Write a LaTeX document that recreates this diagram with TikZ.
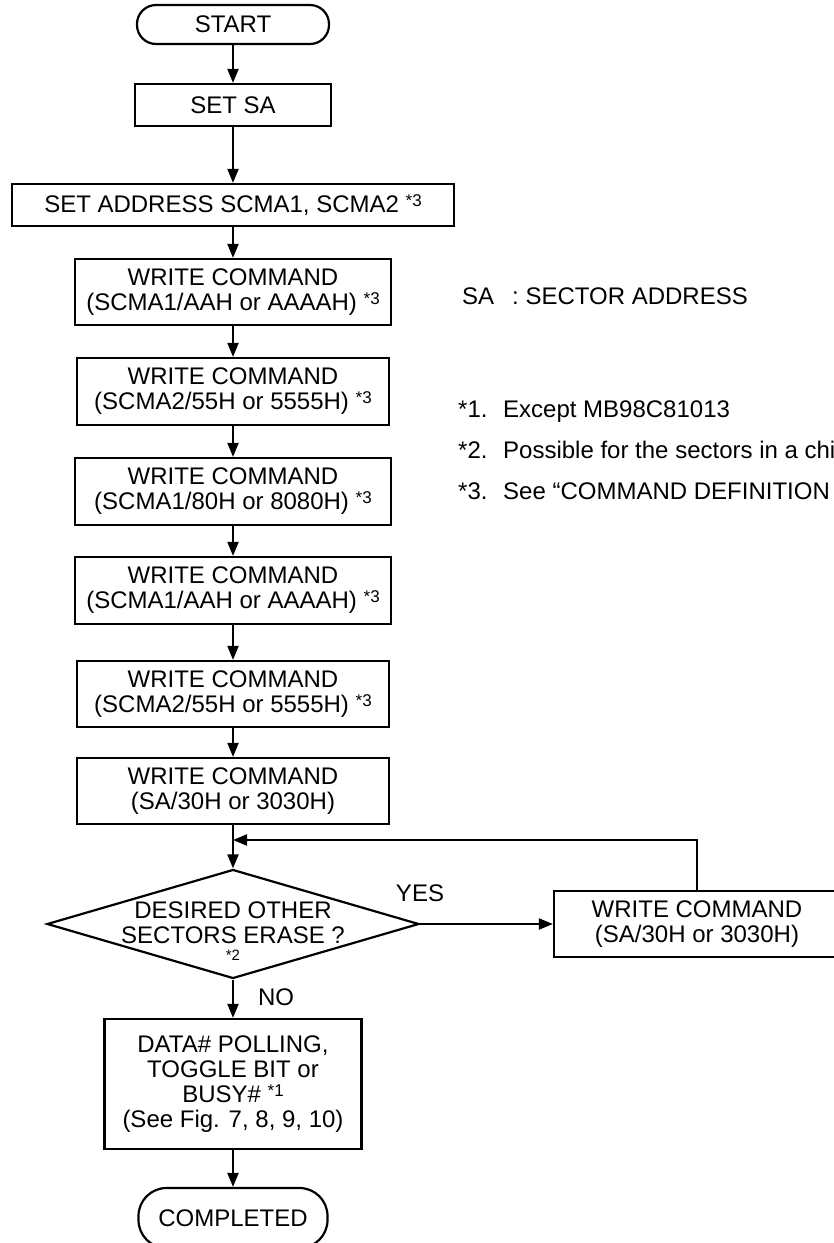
\documentclass[tikz,border=0pt]{standalone}
\usepackage{fontspec}
\setmainfont{Liberation Sans}
\usepackage{tikz}
\usetikzlibrary{shapes.geometric, arrows.meta}

\newcommand{\fnote}[1]{\raisebox{6pt}{\fontsize{17}{17}\selectfont *#1}}

\begin{document}
\begin{tikzpicture}[x=1pt, y=-1pt,
		every node/.style = {font=\fontsize{24}{25}\selectfont, align=center},
		box/.style = {draw, line width=2.2pt, inner sep=0pt},
		term/.style = {box, rounded corners=19pt},
		decision/.style = {diamond, draw, line width=2.2pt, inner sep=0pt},
		flow/.style = {line width=2pt, -{Triangle[length=14pt, width=11pt]}}]
	\useasboundingbox (0,0) rectangle (834,1243);

	% main column
	\node[term, minimum width=192pt, minimum height=39pt] (start) at (233,24.5) {START};
	\node[box, minimum width=196pt, minimum height=42pt] (setsa) at (233,105) {SET SA};
	\node[box, minimum width=442pt, minimum height=42pt] (setaddr) at (233,205) {SET ADDRESS SCMA1, SCMA2 \fnote{3}};
	\node[box, minimum width=316pt, minimum height=66pt] (cmdA) at (233,292) {WRITE COMMAND\\(SCMA1/AAH or AAAAH) \fnote{3}};
	\node[box, minimum width=312pt, minimum height=67pt] (cmdB) at (233,391.5) {WRITE COMMAND\\(SCMA2/55H or 5555H) \fnote{3}};
	\node[box, minimum width=316pt, minimum height=67pt] (cmdC) at (233,491.5) {WRITE COMMAND\\(SCMA1/80H or 8080H) \fnote{3}};
	\node[box, minimum width=316pt, minimum height=67pt] (cmdD) at (233,590.5) {WRITE COMMAND\\(SCMA1/AAH or AAAAH) \fnote{3}};
	\node[box, minimum width=312pt, minimum height=66pt] (cmdE) at (233,694) {WRITE COMMAND\\(SCMA2/55H or 5555H) \fnote{3}};
	\node[box, minimum width=312pt, minimum height=66pt] (cmdF) at (233,791) {WRITE COMMAND\\(SA/30H or 3030H)};
	\coordinate (join) at (233,840);
	\node[decision, minimum width=372pt, minimum height=109pt] (ask) at (233,924) {};
	\node (asktext) at (233,923) {DESIRED OTHER\\SECTORS ERASE ?};
	\node[font=\fontsize{15}{15}\selectfont] (askmark) at (233,955) {*2};
	\node[box, minimum width=286pt, minimum height=66pt] (again) at (697,924) {WRITE COMMAND\\(SA/30H or 3030H)};
	\node (yes) at (420,893) {YES};
	\node (no) at (276,997) {NO};
	\node[box, minimum width=257pt, minimum height=130pt] (poll) at (233,1084) {DATA\# POLLING,\\TOGGLE BIT or\\BUSY\# \fnote{1}\\(See Fig. 7, 8, 9, 10)};
	\node[term, rounded corners=28pt, minimum width=189pt, minimum height=60pt] (done) at (233,1218) {COMPLETED};

	% notes
	\node[anchor=base west, inner sep=0pt] (key) at (462,304) {SA\hspace{18pt}: SECTOR ADDRESS};
	\node[anchor=base west, inner sep=0pt] (noteA) at (458,417) {\makebox[45pt][l]{*1.}Except MB98C81013};
	\node[anchor=base west, inner sep=0pt] (noteB) at (458,458) {\makebox[45pt][l]{*2.}Possible for the sectors in a chi};
	\node[anchor=base west, inner sep=0pt] (noteC) at (458,499) {\makebox[45pt][l]{*3.}See “COMMAND DEFINITION};

	% connectors
	\foreach \a/\b in {start/setsa, setsa/setaddr, setaddr/cmdA, cmdA/cmdB, cmdB/cmdC, cmdC/cmdD, cmdD/cmdE, cmdE/cmdF, cmdF/ask, ask/poll, poll/done}
		\draw[flow] (\a) -- (\b);
	\draw[flow] (ask) -- (again);
	\draw[flow] (again.north) |- (join);
\end{tikzpicture}
\end{document}
